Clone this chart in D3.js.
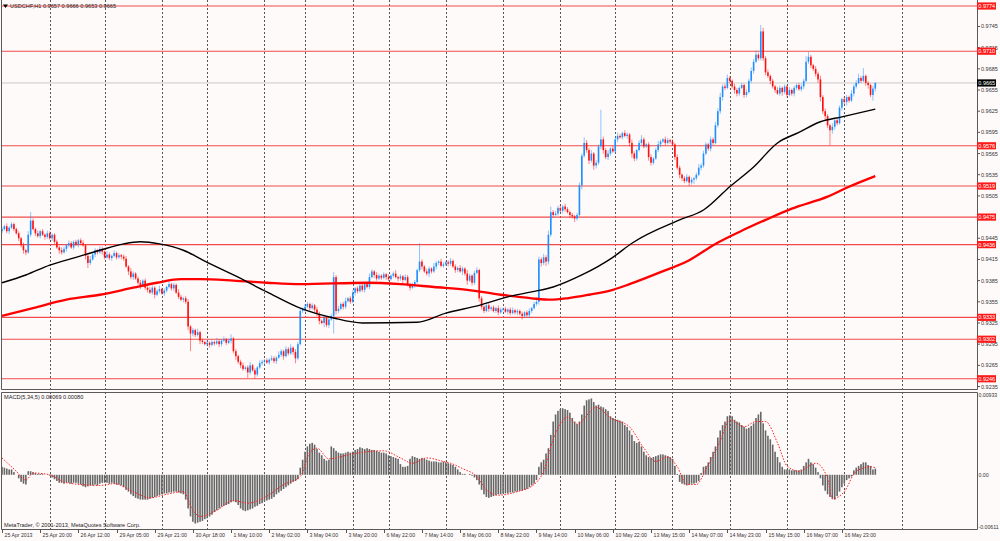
<!DOCTYPE html>
<html>
<head>
<meta charset="utf-8">
<script src="https://cdn.jsdelivr.net/npm/d3@7"></script>
<style>
  html, body { margin: 0; padding: 0; background: #fff; }
  svg { display: block; font-family: "Liberation Sans", Arial, sans-serif; }
</style>
</head>
<body>
<div id="chart"></div>
<script>
// ---- data (prices and MACD in units of 0.0001) ----
const header = "USDCHF,H1  0.9657 0.9666 0.9653 0.9665";
const macdTitle = "MACD(5,34,5) 0.00069 0.00080";
const firstOpen = 9455;

const closes = [
  9458,9462,9455,9460,9465,9458,9452, 9445,9435,9428,9425, 9450,9470,9458,
  9452,9448,9455,9450,9447,9452,9445,9450, 9440,9432,9428,9425,9430,
  9435,9438,9432,9440,9436,9442,9438,9435, 9420,9410,9415, 9422,9428,9425,9430,9426,
  9418,9422,9417,9420,9424,9418,9421,9419,9416, 9405,9398,9390,9395,9388,
  9382,9378,9385,9375, 9372,9368,9375,9365,9370,9373,9367,9371, 9376,9380,9374,9379,
  9368,9362,9358,9360,9355, 9320,9310, 9315,9308,9312,9300,
  9298,9295,9297,9294,9298,9296,9299,9295,9300,9302,9297,9300,9303,
  9285,9278,9270,9265,9260, 9262,9255,9265,9258,9252,9262,
  9268,9270,9272,9269,9273,9275,9271,9276, 9280,9285,9278,9288,9282,9290,9284,9275,
  9295,9342,9345, 9348,9352,9346,9350,9344, 9338,9328,9325,9332,9322,9330,9335,
  9390,9342, 9345,9352,9348,9356,9360,9355, 9368,9374,9370,9378,9372,9380,9376,
  9390,9398,9393, 9388,9392,9389,9394,9390,9387,9392,9395,9390,9388,9391,9386,9390,
  9380,9375,9378,9383, 9400,9412,9405, 9398,9395,9402,9398,9405,
  9410,9412,9406,9408,9411,9409,9413, 9405,9400,9403,9398,9402,
  9395,9385,9392,9382,9396,9400, 9360, 9348,9342,9350,9345, 9347,9342,9346,9340,9344,
  9345,9341,9344,9339,9343,9340,9342, 9338,9335,9340,9336,9342, 9346,9352,9355,
  9415,9410,9418,9412, 9450,9482, 9478, 9480,9488,9484,9490,9486, 9482,9478,9476,9473,9478,
  9520,9562,9580, 9570,9555,9565,9548,9552, 9575,9585, 9570,9560,9565,9572,9568,
  9585,9590,9588,9594,9590,9592, 9580,9565,9558,9570, 9580,9585,9575,9578, 9560,9552,9558,
  9570,9578,9582,9585,9580,9584, 9582,9578, 9560,9545,9535, 9530,9526,9532,9524,9528,9530,
  9535,9545,9548, 9565,9578,9572, 9585,9580, 9605,9625, 9645,9660,9658, 9672,9668,
  9660,9655,9650,9658,9662,9648,9652, 9668,9682, 9695,9705,9700, 9738, 9700,9680,
  9675,9668,9660,9655,9650,9658,9652,9660,9648,9655,9650,9658,9662,9656,9660,9668,
  9695,9702,9690,9685,9678,9670,9645,9625,9618,9605,9598,9603,9612,9608,9630,9642,
  9638,9645,9640,9650,9660,9665,9672,9668,9675,9665,9662,9648,9657,9665
];

// wick length above / below the body
const wickUp = [
  3,2,4,2,3,2,2,3,2,4, 2,5,12,3,2,4,2,3,2,4, 3,2,2,3,2,4,3,2,4,3, 2,3,2,3,4,2,3,5,2,3,
  2,4,3,2,5,3,2,4,2,3, 2,3,4,2,5,3,2,3,4,2, 3,2,4,3,2,3,5,2,3,2, 4,2,3,2,5,3,2,3,4,2,
  3,2,5,2,3,2,4,2,3,2, 5,3,2,4,2,3,6,2,3,2, 3,4,2,3,5,2,3,2,4,3, 2,3,2,4,3,2,5,3,2,4,
  3,5,2,4,3,3,2,4,3,2, 3,2,4,3,2,5,3,2,3,7, 3,4,2,3,5,2,3,4,2,3, 2,4,3,2,5,3,2,4,3,2,
  3,2,4,2,3,5,2,3,2,4, 3,2,4,3,2,26,3,2,4,3, 2,5,3,2,4,3,2,3,4,2, 3,2,4,3,2,5,3,2,3,4,
  2,3,2,4,3,2,3,2,4,3, 2,3,2,3,4,2,3,2,3,2, 3,4,2,3,5,4,3,5,3,6, 8,3,4,3,5,2,4,3,2,3,
  2,3,4,3,8,4,3,5,2,4, 3,42,4,3,5,2,4,3,5,3, 2,4,3,2,5,3,2,4,6,3, 2,3,4,2,3,5,3,2,4,3,
  2,3,2,4,3,2,3,4,2,3, 2,3,5,3,4,3,2,4,3,5, 4,6,3,4,5,3,2,4,3,2, 3,2,4,3,5,4,6,3,9,5,
  3,4,2,3,2,4,3,2,3,2, 4,2,3,2,3,4,3,8,7,3, 2,4,3,5,3,4,3,2,5,3, 4,3,2,4,3,2,5,3,4,6,
  3,11,2,3,2,4,1
];
const wickDn = [
  3,2,3,4,2,3,2,4,3,5, 4,2,3,2,4,2,3,2,4,3, 2,4,3,2,5,3,2,4,3,2, 3,2,4,3,2,5,7,3,2,4,
  3,2,4,3,2,3,4,2,3,2, 4,3,2,5,3,4,2,3,5,2, 3,4,2,3,5,2,3,2,4,3, 2,3,4,2,3,2,4,3,5,25,
  4,3,2,5,3,2,3,4,2,3, 2,4,3,2,3,2,4,3,5,3, 4,3,2,8,3,2,6,3,2,3, 4,2,3,2,3,4,2,3,5,2,
  3,2,4,7,3,2,3,4,2,3, 2,4,3,5,2,6,3,4,2,25, 5,3,2,4,3,2,3,2,4,3, 2,3,4,2,3,2,4,3,2,3,
  2,4,3,2,3,2,4,3,5,2, 3,4,2,3,2,3,4,2,3,5, 3,2,4,3,2,3,2,4,3,2, 4,3,2,5,3,6,2,4,3,2,
  5,4,3,2,4,3,2,3,4,2, 3,2,4,3,2,3,4,2,5,3, 2,4,3,2,3,4,5,3,6,4, 3,4,2,3,2,4,3,2,4,3,
  5,3,2,6,3,4,5,3,6,4, 3,4,5,3,4,3,2,3,4,2, 3,2,4,5,6,4,3,2,4,3, 2,5,4,3,2,3,4,2,3,2,
  3,2,4,3,5,4,3,2,5,3, 6,3,2,4,3,2,3,4,3,2, 3,4,5,3,2,4,3,5,4,3, 2,4,3,2,3,4,2,3,3,4,
  4,3,5,3,4,2,3,5,3,4, 2,3,4,3,2,3,4,2,3,4, 3,4,5,6,4,5,4,21,5,4, 3,2,4,3,5,3,2,4,3,2,
  3,2,4,5,3,8,4
];

// moving averages (bar index, value)
const maFastIdx = [0,10,20,31,41,51,58,66,76,86,97,111,125,139,151,174,186,200,212,222,231,243,256,264,284,294,305,315,325,334,343,352,366];
const maFast = [9382,9393,9407,9418,9428,9437,9440,9437,9428,9411,9393,9369,9346,9332,9325,9326,9339,9350,9362,9369,9376,9393,9418,9438,9471,9485,9518,9546,9580,9595,9610,9617,9628];
const maSlowIdx = [0,13,27,41,55,65,75,83,97,111,125,153,167,181,195,209,222,230,237,246,256,263,276,288,299,309,320,331,346,355,366];
const maSlow = [9335,9346,9358,9365,9375,9382,9387,9387,9385,9382,9380,9382,9380,9376,9372,9365,9360,9358,9360,9365,9372,9380,9397,9414,9437,9454,9471,9487,9504,9518,9533];

const macd = [
  9,8, 7,6,6, 3,0, -4,-8,-10,-11, 4,4,3, 2,1,1,1,0,0, -1,-3,-5,-7, -9,-9,-10,
  -9,-9,-10,-9,-9,-10, -11,-13,-14,-13, -12,-12,-11,-12, -10,-9,-9,-9,-10,-9,
  -10,-11,-11,-12, -14,-17,-19,-22,-24, -26,-27,-28,-28,-28, -28,-27,-26,-25,-24,-23,
  -22,-21,-21,-20,-20, -19,-19,-20,-21,-22, -28,-38,-47, -53,-55,-54,-53,
  -52,-50,-49,-47,-45, -42,-40,-38,-36,-35,-34,-33, -31,-30,-31,-34, -38,-40,-41,
  -40,-39,-38,-36,-35, -33,-32,-30,-29,-28,-27, -25,-22,-20,-18,-16,-14,
  -12,-10,-8,-7,-5, 8,17, 26,32,35,36,34, 29,25,22, 18,16,17, 32,30,27,
  25,24,24,25,26,25, 26,28,29,31,30,29, 30,29,28,28,27, 26,25,25,24, 22,21,20,19,18,
  12,9,9,10, 18,21,20,19,18, 19,18,17,16,15, 15,15,14,14,15,14,13, 12,11,9,6,3,1,
  1,0,1,-1,-3, -6,-11,-17, -22,-25,-26,-25,-24, -23,-22,-22,-21,-21,-21,-20,
  -20,-19,-19,-18,-18,-17,-16,-14, -12,-10,-6, 9,14,17, 24,30, 45,60,68,
  72,74,75,74,73,70, 64,60,57,60, 68,78,84,85, 86,82,78, 79,77,76,74,72,
  66,64,63,62,61,60, 56,54,50,45, 38,36,37,32, 26,22,20, 19,20,21,22,
  23,23,22,21,20,18, 10,1, -8,-10,-11,-12,-11, -10,-10,-9,-7, 2,9,10, 14,20,26,32,
  42,50,56,60, 66,67,66, 62,60,59, 56,54,52,53, 55,58,64, 68,71, 58,50, 44,40,34,
  26,20,14, 9,6,6, 6,5,5,5,5,6, 10,14,18, 14,12,8, 3,-4, -12,-18,-22,-25,
  -27,-28,-24, -19,-14,-10, -6,-4,-2, 5,8,10,12, 14,14,11,10, 6,6.9
];
const signalIdx = [0,6,10,13,20,27,41,47,55,62,69,76,80,83,90,97,103,111,118,125,129,132,137,146,153,160,167,172,178,185,188,193,199,203,208,216,223,227,231,237,241,249,255,263,269,274,279,283,287,291,295,301,305,311,316,320,325,329,334,341,346,348,353,358,364,366];
const signal = [19,4,-6,2,0,-9,-12,-10,-19,-26,-22,-19,-40,-47,-40,-29,-32,-24,-11,-2,25,30,18,23,26,27,19,13,19,15,13,7,-2,-17,-23,-19,-11,4,40,65,57,76,64,54,30,15,20,9,-11,-11,6,38,62,54,60,60,36,10,4,13,-4,-27,-19,4,9,8];

const levels = [0.9774, 0.9710, 0.9576, 0.9519, 0.9475, 0.9436, 0.9333, 0.9302, 0.9246];
const lastPrice = 0.9665;
const priceTicks = [0.9745,0.9715,0.9685,0.9655,0.9625,0.9595,0.9565,0.9535,0.9505,0.9475,0.9445,0.9415,0.9385,0.9355,0.9325,0.9295,0.9265,0.9235];
const macdTicks = [["0.00933", 0.00933], ["0.00", 0], ["-0.00611", -0.00611]];
const timeLabels = ["25 Apr 2013","25 Apr 20:00","26 Apr 12:00","29 Apr 05:00","29 Apr 21:00","30 Apr 18:00",
  "1 May 10:00","2 May 02:00","3 May 04:00","3 May 20:00","6 May 22:00","7 May 14:00","8 May 06:00",
  "8 May 22:00","9 May 14:00","10 May 06:00","10 May 22:00","13 May 15:00","14 May 07:00","14 May 23:00",
  "15 May 15:00","16 May 07:00","16 May 23:00"];
const daySeps = [20,43,67,86,110,127,147,162,186,210,234,257,281,305,329,353,377];

// ---- layout ----
const W = 1000, H = 541;
const left = 1, right = 977;
const mainTop = 0, mainBottom = 389;
const macdTop = 392, macdBottom = 529;
const fs = 5.5;

const svg = d3.select("#chart").append("svg")
  .attr("width", W).attr("height", H);

svg.append("rect").attr("width", W).attr("height", H).attr("fill", "#fffafa");

const x = d3.scaleLinear().domain([0, 366]).range([2, 875.3]);
const y = d3.scaleLinear().domain([0.92315, 0.97825]).range([mainBottom, mainTop]);
const yM = d3.scaleLinear().domain([-0.00611, 0.00933]).range([macdBottom, macdTop]);

const defs = svg.append("defs");
defs.append("clipPath").attr("id", "clipMain").append("rect")
  .attr("x", left).attr("y", mainTop).attr("width", right - left).attr("height", mainBottom - mainTop);
defs.append("clipPath").attr("id", "clipMacd").append("rect")
  .attr("x", left).attr("y", macdTop).attr("width", right - left).attr("height", macdBottom - macdTop);

// day separators
svg.append("g").selectAll("line").data(daySeps).enter().append("line")
  .attr("x1", d => Math.round(x(d)) + 0.5).attr("x2", d => Math.round(x(d)) + 0.5)
  .attr("y1", mainTop).attr("y2", macdBottom)
  .attr("stroke", "#555").attr("stroke-width", 1).attr("stroke-dasharray", "2,2");

const main = svg.append("g").attr("clip-path", "url(#clipMain)");

// horizontal levels
main.append("line")
  .attr("x1", left).attr("x2", right)
  .attr("y1", y(lastPrice)).attr("y2", y(lastPrice))
  .attr("stroke", "#c8c8c8").attr("stroke-width", 1);
main.append("g").selectAll("line").data(levels).enter().append("line")
  .attr("x1", left).attr("x2", right)
  .attr("y1", d => y(d)).attr("y2", d => y(d))
  .attr("stroke", "#f24a4a").attr("stroke-width", 1.1);

// candles
const bars = closes.map((c, i) => {
  const o = i === 0 ? firstOpen : closes[i - 1];
  return {
    i: i, o: o / 1e4, c: c / 1e4,
    h: (Math.max(o, c) + wickUp[i]) / 1e4,
    l: (Math.min(o, c) - wickDn[i]) / 1e4
  };
});
const col = d => d.c >= d.o ? "#1e90ff" : "#ff1010";

main.append("g").selectAll("line").data(bars).enter().append("line")
  .attr("x1", d => x(d.i)).attr("x2", d => x(d.i))
  .attr("y1", d => y(d.h)).attr("y2", d => y(d.l))
  .attr("stroke", col).attr("stroke-width", 1).attr("stroke-opacity", 0.5);

main.append("g").selectAll("rect").data(bars).enter().append("rect")
  .attr("x", d => x(d.i) - 0.8).attr("width", 1.6)
  .attr("y", d => y(Math.max(d.o, d.c)))
  .attr("height", d => Math.max(1, Math.abs(y(d.o) - y(d.c))))
  .attr("fill", col);

// moving averages
const maLine = d3.line().curve(d3.curveMonotoneX);
main.append("path")
  .attr("d", maLine(maSlowIdx.map((d, k) => [x(d), y(maSlow[k] / 1e4)])))
  .attr("fill", "none").attr("stroke", "#ff0000").attr("stroke-width", 2.3);
main.append("path")
  .attr("d", maLine(maFastIdx.map((d, k) => [x(d), y(maFast[k] / 1e4)])))
  .attr("fill", "none").attr("stroke", "#000").attr("stroke-width", 1.4);

// MACD panel
const sub = svg.append("g").attr("clip-path", "url(#clipMacd)");
sub.append("g").selectAll("rect").data(macd).enter().append("rect")
  .attr("x", (d, i) => x(i) - 0.8).attr("width", 1.6)
  .attr("y", d => yM(Math.max(0, d / 1e4)))
  .attr("height", d => Math.abs(yM(d / 1e4) - yM(0)))
  .attr("fill", "#666");
sub.append("path")
  .attr("d", maLine(signalIdx.map((d, k) => [x(d), yM(signal[k] / 1e4)])))
  .attr("fill", "none").attr("stroke", "#ff2020").attr("stroke-width", 1)
  .attr("stroke-dasharray", "1.5,1.5");

// frames
const frame = svg.append("g").attr("fill", "none").attr("stroke", "#5a5a5a").attr("stroke-width", 1);
frame.append("path").attr("d", `M${left + 0.5},${mainTop} V${mainBottom + 0.5} H${right + 0.5} V${mainTop}`);
frame.append("path").attr("d", `M${left + 0.5},${macdTop + 0.5} H${right + 0.5} V${macdBottom + 0.5} H${left + 0.5} Z`);

// price axis (ticks hidden exactly behind a level box are left out)
const ax = svg.append("g").attr("font-size", fs).attr("fill", "#333");
priceTicks.forEach(p => {
  ax.append("line").attr("x1", right).attr("x2", right + 3)
    .attr("y1", y(p)).attr("y2", y(p)).attr("stroke", "#555");
  if (levels.some(l => Math.abs(l - p) < 0.00005)) return;
  ax.append("text").attr("x", right + 4).attr("y", y(p) + 2).text(p.toFixed(4));
});
macdTicks.forEach(t => {
  ax.append("text").attr("x", right + 1.5).attr("font-size", 5.2)
    .attr("y", yM(t[1]) + (t[1] > 0 ? 5 : t[1] < 0 ? -0.5 : 2)).text(t[0]);
});

// level boxes
const box = (p, fill) => {
  const g = svg.append("g");
  g.append("rect").attr("x", right).attr("y", y(p) - 3.6).attr("width", 19).attr("height", 7.2).attr("fill", fill);
  g.append("text").attr("x", right + 1.3).attr("y", y(p) + 2)
    .attr("font-size", fs).attr("fill", "#fff").text(p.toFixed(4));
};
levels.forEach(p => box(p, "#ff1a1a"));
box(lastPrice, "#000");

// time axis
const tx = svg.append("g").attr("font-size", 5.2).attr("fill", "#333");
timeLabels.forEach((t, k) => {
  const px = Math.round(x(k * 16)) + 0.5;
  tx.append("line").attr("x1", px).attr("x2", px).attr("y1", macdBottom).attr("y2", macdBottom + 4).attr("stroke", "#555");
  tx.append("text").attr("x", px + 2).attr("y", 537).text(t);
});

// captions
svg.append("path").attr("d", "M3,4.5 L8,4.5 L5.5,8 Z").attr("fill", "#000");
svg.append("text").attr("x", 10).attr("y", 8.3).attr("font-size", 5.6).attr("fill", "#222").text(header);
svg.append("text").attr("x", 4).attr("y", 399).attr("font-size", 5.6).attr("fill", "#222").text(macdTitle);
svg.append("text").attr("x", 4).attr("y", 527).attr("font-size", 5.6).attr("fill", "#222")
  .text("MetaTrader, \u00a9 2001-2013, MetaQuotes Software Corp.");
</script>
</body>
</html>
